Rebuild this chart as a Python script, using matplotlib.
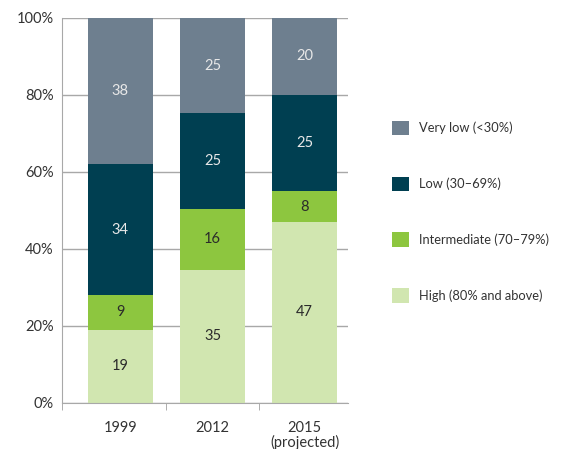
import matplotlib.pyplot as plt
import numpy as np

plt.rcParams['font.family'] = ['Lato', 'DejaVu Sans']

years = ["1999", "2012", "2015\n(projected)"]
levels = ["High (80% and above)", "Intermediate (70\u201379%)", "Low (30\u201369%)", "Very low (<30%)"]
high = [19, 35, 47]
intermediate = [9, 16, 8]
low = [34, 25, 25]
very_low = [38, 25, 20]

colors = ["#d1e6b0", "#8dc63f", "#003f51", "#6e7f8f"]
text_colors = ["#2b2b2b", "#2b2b2b", "#e8e8e8", "#e8e8e8"]

fig = plt.figure(figsize=(5.62, 4.49), dpi=100)
ax = fig.add_axes([0.110, 0.1025, 0.509, 0.8575])

x = np.arange(len(years))
series = [high, intermediate, low, very_low]
totals = np.sum(np.array(series, dtype=float), axis=0)
bottom = np.zeros(len(years))
handles = []
for vals, col, tcol, lab in zip(series, colors, text_colors, levels):
    share = np.array(vals) / totals * 100  # bars are shown as 100% stacks
    b = ax.bar(x, share, width=0.707, bottom=bottom, color=col, label=lab, zorder=2)
    ax.bar_label(b, labels=[str(v) for v in vals], label_type='center', color=tcol, fontsize=10.5)
    handles.append(b)
    bottom += share

ax.set_ylim(0, 100)
ax.set_xlim(-0.636, 2.47)
ax.set_yticks([0, 20, 40, 60, 80, 100])
ax.set_yticklabels([f"{v}%" for v in [0, 20, 40, 60, 80, 100]], fontsize=10.5, color="#333333")
ax.set_xticks(x)
ax.set_xticklabels(years, fontsize=10.5, color="#333333", linespacing=1.0)
ax.set_xticks([-0.636, 0.5, 1.5], minor=True)
ax.tick_params(axis='x', which='major', length=0, pad=13)
ax.tick_params(axis='x', which='minor', length=5, color="#a0a0a0")
ax.tick_params(axis='y', length=0, pad=6)
ax.yaxis.grid(True, color="#a8a8a8", linewidth=1, zorder=0)
ax.set_axisbelow(True)
for s in ['top', 'right']:
    ax.spines[s].set_visible(False)
ax.spines['left'].set_color("#a8a8a8")
ax.spines['bottom'].set_color("#a8a8a8")

fig.legend(handles[::-1], levels[::-1], loc='upper left', bbox_to_anchor=(0.676, 0.757),
           frameon=False, fontsize=9.3, handlelength=1.35, handleheight=1.35,
           labelspacing=3.2, handletextpad=0.75, labelcolor="#333333")

fig.savefig("out.png", dpi=100)
